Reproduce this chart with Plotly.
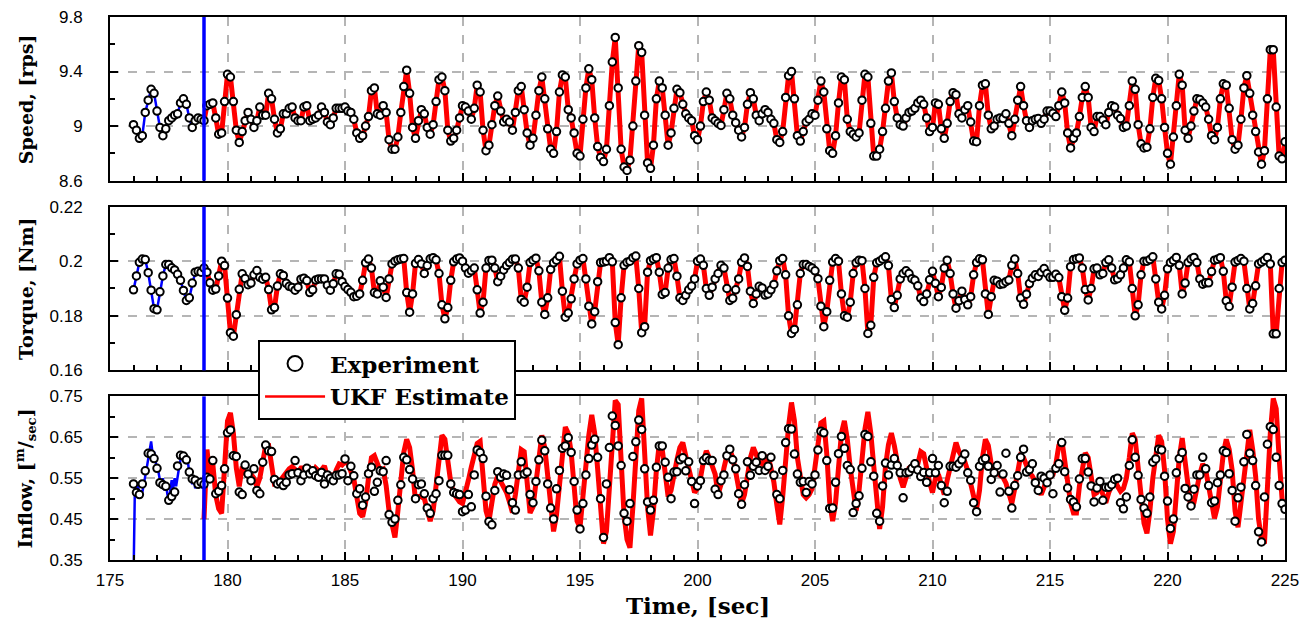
import numpy as np
import plotly.graph_objects as go
from plotly.subplots import make_subplots

# logging interval of the experiment, [sec]
DT = 0.125
T_EXP0 = 176.0      # first experiment sample
T_SWITCH = 179.0    # UKF switched on here
T_END = 225.0

# experiment: one line = one second (8 samples)
SPEED = [
    9.01, 8.97, 8.91, 8.93, 9.10, 9.19, 9.27, 9.24,   # 176
    9.11, 8.99, 8.93, 8.98, 9.04, 9.06, 9.08, 9.09,
    9.17, 9.20, 9.16, 9.06, 8.99, 9.04, 9.06, 9.05,
    9.04, 9.15, 9.16, 9.17, 9.06, 8.94, 8.95, 9.18,   # 179
    9.38, 9.36, 9.18, 8.97, 8.88, 8.96, 9.04, 9.10,   # 180
    9.05, 8.99, 9.04, 9.14, 9.08, 9.08, 9.24, 9.20,
    9.05, 8.95, 8.98, 9.09, 9.09, 9.13, 9.14, 9.06,
    9.04, 9.04, 9.14, 9.15, 9.04, 9.05, 9.06, 9.08,
    9.14, 9.10, 9.03, 9.01, 9.06, 9.13, 9.13, 9.13,
    9.14, 9.11, 9.10, 9.05, 8.95, 8.91, 8.93, 9.00,   # 185
    9.07, 9.26, 9.28, 9.09, 9.08, 9.15, 9.10, 8.90,
    8.83, 8.83, 8.92, 9.10, 9.29, 9.41, 9.24, 8.99,
    8.91, 9.04, 9.12, 9.09, 8.99, 8.94, 9.01, 9.18,
    9.34, 9.36, 9.26, 8.97, 8.89, 8.91, 8.97, 9.06,
    9.15, 9.14, 9.11, 9.05, 9.13, 9.30, 9.25, 8.97,   # 190
    8.82, 8.86, 9.01, 9.15, 9.22, 9.11, 9.03, 9.05,
    9.03, 8.97, 9.10, 9.26, 9.29, 9.12, 8.95, 8.86,
    8.91, 9.08, 9.26, 9.36, 9.20, 8.98, 8.83, 8.80,
    8.96, 9.25, 9.375, 9.36, 9.12, 9.06, 8.95, 8.80,
    8.78, 9.05, 9.28, 9.42, 9.34, 9.06, 8.85, 8.77,   # 195
    8.74, 8.83, 9.15, 9.47, 9.65, 9.28, 8.83, 8.70,
    8.675, 8.75, 9.00, 9.33, 9.59, 9.54, 9.08, 8.73,
    8.69, 8.86, 9.20, 9.33, 9.28, 9.08, 8.86, 8.95,
    9.13, 9.27, 9.245, 9.16, 9.09, 9.06, 9.04, 8.93,
    8.90, 9.00, 9.18, 9.25, 9.19, 9.06, 9.04, 9.02,   # 200
    9.005, 9.12, 9.24, 9.20, 9.08, 9.025, 8.97, 8.92,
    8.99, 9.16, 9.245, 9.20, 9.08, 9.04, 9.09, 9.12,
    9.10, 9.05, 9.02, 8.90, 8.88, 8.96, 9.21, 9.37,
    9.40, 9.20, 8.93, 8.89, 8.96, 9.03, 9.05, 9.09,
    9.08, 9.19, 9.33, 9.25, 8.98, 8.82, 8.80, 8.93,   # 205
    9.17, 9.36, 9.34, 9.05, 8.96, 8.94, 8.92, 8.95,
    9.19, 9.38, 9.36, 9.02, 8.78, 8.78, 8.83, 8.96,
    9.13, 9.33, 9.39, 9.18, 9.06, 9.01, 9.00, 9.06,
    9.10, 9.11, 9.13, 9.17, 9.19, 9.16, 9.06, 8.96,
    8.99, 9.17, 9.16, 8.98, 8.91, 9.02, 9.18, 9.245,  # 210
    9.23, 9.09, 9.06, 9.12, 9.15, 9.03, 8.89, 8.885,
    9.15, 9.30, 9.31, 9.08, 8.98, 9.00, 9.05, 9.06,
    9.055, 9.09, 9.02, 8.93, 9.05, 9.19, 9.29, 9.15,
    9.04, 8.99, 9.04, 9.05, 9.055, 9.02, 9.05, 9.11,
    9.11, 9.095, 9.07, 9.15, 9.25, 9.17, 8.95, 8.84,  # 215
    8.91, 8.95, 9.07, 9.21, 9.29, 9.21, 8.99, 8.96,
    9.07, 9.07, 9.045, 9.01, 9.10, 9.15, 9.14, 9.08,
    9.055, 8.99, 9.00, 9.15, 9.33, 9.27, 9.01, 8.87,
    8.84, 8.845, 8.98, 9.21, 9.35, 9.335, 9.20, 8.99,
    8.80, 8.72, 8.92, 9.15, 9.38, 9.30, 8.97, 8.91,   # 220
    9.00, 9.11, 9.20, 9.195, 9.17, 9.14, 9.05, 8.93,
    8.90, 8.99, 9.20, 9.31, 9.30, 9.13, 8.90, 8.83,
    8.86, 9.05, 9.28, 9.37, 9.24, 9.08, 8.96, 8.81,
    8.72, 8.82, 9.20, 9.56, 9.56, 9.14, 8.78, 8.76,
    8.885,                                            # 225
]

TORQUE = [
    0.1895, 0.1946, 0.1996, 0.2008, 0.2006, 0.1958, 0.1894, 0.1826,   # 176
    0.1822, 0.1888, 0.1946, 0.1988, 0.1988, 0.1976, 0.1968, 0.1952,
    0.1930, 0.1893, 0.1856, 0.1866, 0.1920, 0.1960, 0.1963, 0.1960,
    0.1975, 0.1960, 0.1921, 0.1894, 0.1898, 0.1946, 0.2000, 0.1984,   # 179
    0.1865, 0.1738, 0.1725, 0.1804, 0.1897, 0.1954, 0.1937, 0.1914,   # 180
    0.1920, 0.1950, 0.1966, 0.1941, 0.1934, 0.1941, 0.1896, 0.1822,
    0.1830, 0.1909, 0.1954, 0.1948, 0.1919, 0.1908, 0.1904, 0.1894,
    0.1905, 0.1934, 0.1938, 0.1929, 0.1885, 0.1895, 0.1931, 0.1935,
    0.1935, 0.1935, 0.1912, 0.1894, 0.1917, 0.1954, 0.1952, 0.1925,
    0.1907, 0.1896, 0.1886, 0.1870, 0.1872, 0.1880, 0.1930, 0.1994,   # 185
    0.2008, 0.1975, 0.1885, 0.1880, 0.1928, 0.1905, 0.1867, 0.1935,
    0.1990, 0.2000, 0.2005, 0.2008, 0.2010, 0.1885, 0.1813, 0.1880,
    0.1992, 0.2006, 0.1990, 0.1955, 0.1984, 0.2009, 0.2013, 0.2005,
    0.1955, 0.1840, 0.1789, 0.1830, 0.1930, 0.1998, 0.2008, 0.2012,
    0.2000, 0.1975, 0.1956, 0.1965, 0.1975, 0.1895, 0.1810, 0.1850,   # 190
    0.1975, 0.2003, 0.2004, 0.1975, 0.1925, 0.1945, 0.1968, 0.1984,
    0.1995, 0.2007, 0.2008, 0.1975, 0.1860, 0.1850, 0.1905, 0.1995,
    0.2004, 0.2011, 0.1965, 0.1850, 0.1805, 0.1866, 0.1970, 0.1994,
    0.2004, 0.2018, 0.1890, 0.1795, 0.1810, 0.1862, 0.1935, 0.1990,
    0.2004, 0.2010, 0.1935, 0.1835, 0.1770, 0.1815, 0.1925, 0.1995,   # 195
    0.1997, 0.2000, 0.2013, 0.1998, 0.1775, 0.1694, 0.1866, 0.1985,
    0.1996, 0.2000, 0.2013, 0.2019, 0.1900, 0.1738, 0.1760, 0.1960,
    0.2002, 0.2008, 0.2013, 0.1960, 0.1878, 0.1885, 0.1975, 0.2006,
    0.2010, 0.1945, 0.1866, 0.1856, 0.1875, 0.1895, 0.1909, 0.1935,
    0.2000, 0.2008, 0.1985, 0.1900, 0.1875, 0.1905, 0.1935, 0.1955,   # 200
    0.1985, 0.1975, 0.1900, 0.1856, 0.1864, 0.1895, 0.1935, 0.1996,
    0.2012, 0.1981, 0.1890, 0.1845, 0.1880, 0.1908, 0.1902, 0.1876,
    0.1880, 0.1895, 0.1915, 0.1965, 0.2002, 0.2010, 0.1950, 0.1800,
    0.1735, 0.1750, 0.1840, 0.1955, 0.1988, 0.1988, 0.1981, 0.1975,
    0.1965, 0.1936, 0.1835, 0.1760, 0.1815, 0.1930, 0.1997, 0.2010,   # 205
    0.2000, 0.1880, 0.1800, 0.1795, 0.1850, 0.1955, 0.1994, 0.2004,
    0.2002, 0.1900, 0.1735, 0.1765, 0.1941, 0.1994, 0.2000, 0.2008,
    0.2016, 0.1984, 0.1860, 0.1830, 0.1875, 0.1935, 0.1955, 0.1965,
    0.1955, 0.1936, 0.1930, 0.1910, 0.1865, 0.1852, 0.1880, 0.1932,
    0.1963, 0.1919, 0.1870, 0.1904, 0.1975, 0.2004, 0.1955, 0.1880,   # 210
    0.1828, 0.1855, 0.1890, 0.1860, 0.1840, 0.1870, 0.1950, 0.1995,
    0.2009, 0.2005, 0.1880, 0.1805, 0.1870, 0.1930, 0.1927, 0.1915,
    0.1917, 0.1925, 0.1931, 0.1985, 0.2008, 0.1955, 0.1865, 0.1842,
    0.1879, 0.1918, 0.1938, 0.1950, 0.1944, 0.1960, 0.1973, 0.1955,
    0.1941, 0.1941, 0.1952, 0.1940, 0.1870, 0.1820, 0.1865, 0.1980,   # 215
    0.2006, 0.2009, 0.2012, 0.1975, 0.1896, 0.1858, 0.1900, 0.1972,
    0.1975, 0.1950, 0.1955, 0.1995, 0.2005, 0.1975, 0.1932, 0.1936,
    0.1950, 0.1975, 0.2005, 0.1998, 0.1900, 0.1800, 0.1840, 0.1950,
    0.2000, 0.2000, 0.2006, 0.2016, 0.1935, 0.1850, 0.1825, 0.1875,
    0.1972, 0.1995, 0.2003, 0.2014, 0.1985, 0.1880, 0.1920, 0.1995,   # 220
    0.2008, 0.2014, 0.1995, 0.1935, 0.1916, 0.1921, 0.1921, 0.1962,
    0.2004, 0.2007, 0.2013, 0.1963, 0.1855, 0.1834, 0.1905, 0.1997,
    0.2003, 0.2010, 0.2000, 0.1900, 0.1825, 0.1845, 0.1910, 0.1990,
    0.1997, 0.2004, 0.2014, 0.1990, 0.1734, 0.1734, 0.1900, 0.1995,
    0.2004,                                                           # 225
]

INFLOW = [
    0.536, 0.515, 0.510, 0.536, 0.568, 0.611, 0.609, 0.598,   # 176
    0.574, 0.539, 0.534, 0.530, 0.496, 0.505, 0.516, 0.580,
    0.606, 0.604, 0.595, 0.565, 0.548, 0.545, 0.535, 0.540,
    0.535, 0.552, 0.548, 0.593, 0.512, 0.518, 0.532, 0.573,   # 179
    0.661, 0.668, 0.605, 0.603, 0.516, 0.510, 0.582, 0.560,   # 180
    0.544, 0.573, 0.520, 0.512, 0.589, 0.631, 0.617, 0.615,
    0.547, 0.536, 0.540, 0.532, 0.540, 0.558, 0.561, 0.593,
    0.563, 0.544, 0.558, 0.574, 0.561, 0.568, 0.556, 0.552,
    0.564, 0.536, 0.558, 0.550, 0.544, 0.557, 0.558, 0.561,
    0.597, 0.544, 0.579, 0.556, 0.512, 0.524, 0.484, 0.504,   # 185
    0.561, 0.577, 0.518, 0.540, 0.568, 0.566, 0.593, 0.461,
    0.442, 0.450, 0.496, 0.534, 0.601, 0.595, 0.571, 0.548,
    0.500, 0.534, 0.536, 0.512, 0.477, 0.464, 0.500, 0.512,
    0.544, 0.606, 0.606, 0.606, 0.536, 0.515, 0.512, 0.510,
    0.468, 0.472, 0.510, 0.480, 0.558, 0.619, 0.613, 0.598,   # 190
    0.506, 0.444, 0.436, 0.520, 0.566, 0.552, 0.560, 0.557,
    0.522, 0.490, 0.472, 0.558, 0.590, 0.560, 0.565, 0.510,
    0.490, 0.542, 0.595, 0.643, 0.617, 0.536, 0.477, 0.450,
    0.524, 0.569, 0.623, 0.629, 0.649, 0.613, 0.542, 0.472,
    0.426, 0.488, 0.558, 0.598, 0.631, 0.645, 0.601, 0.500,   # 195
    0.405, 0.536, 0.625, 0.702, 0.679, 0.629, 0.581, 0.464,
    0.445, 0.488, 0.603, 0.639, 0.692, 0.669, 0.573, 0.492,
    0.472, 0.496, 0.577, 0.629, 0.629, 0.589, 0.552, 0.500,
    0.565, 0.566, 0.595, 0.600, 0.568, 0.590, 0.542, 0.488,
    0.531, 0.544, 0.593, 0.600, 0.593, 0.593, 0.523, 0.510,   # 200
    0.544, 0.558, 0.605, 0.621, 0.595, 0.573, 0.512, 0.486,
    0.534, 0.590, 0.557, 0.579, 0.589, 0.569, 0.605, 0.569,
    0.579, 0.601, 0.557, 0.510, 0.500, 0.569, 0.637, 0.671,
    0.670, 0.609, 0.560, 0.540, 0.542, 0.515, 0.542, 0.536,
    0.558, 0.619, 0.665, 0.661, 0.593, 0.476, 0.477, 0.540,   # 205
    0.610, 0.652, 0.623, 0.581, 0.571, 0.466, 0.488, 0.507,
    0.574, 0.657, 0.652, 0.590, 0.555, 0.464, 0.445, 0.531,
    0.587, 0.558, 0.582, 0.598, 0.581, 0.563, 0.502, 0.563,
    0.565, 0.574, 0.585, 0.570, 0.554, 0.564, 0.540, 0.563,
    0.598, 0.563, 0.581, 0.532, 0.490, 0.518, 0.579, 0.579,   # 210
    0.577, 0.585, 0.595, 0.609, 0.563, 0.545, 0.490, 0.468,
    0.579, 0.593, 0.598, 0.579, 0.547, 0.563, 0.581, 0.516,
    0.560, 0.611, 0.518, 0.477, 0.532, 0.556, 0.601, 0.621,
    0.565, 0.571, 0.585, 0.539, 0.520, 0.555, 0.550, 0.539,
    0.558, 0.512, 0.574, 0.585, 0.637, 0.566, 0.526, 0.498,   # 215
    0.492, 0.480, 0.548, 0.598, 0.598, 0.565, 0.531, 0.492,
    0.526, 0.542, 0.496, 0.528, 0.528, 0.534, 0.547, 0.550,
    0.490, 0.475, 0.504, 0.581, 0.644, 0.601, 0.557, 0.498,
    0.477, 0.464, 0.504, 0.589, 0.597, 0.621, 0.619, 0.555,
    0.494, 0.427, 0.450, 0.563, 0.598, 0.613, 0.525, 0.504,   # 220
    0.482, 0.523, 0.558, 0.558, 0.601, 0.573, 0.532, 0.490,
    0.494, 0.539, 0.558, 0.617, 0.613, 0.561, 0.520, 0.445,
    0.502, 0.528, 0.590, 0.657, 0.611, 0.593, 0.532, 0.419,
    0.394, 0.504, 0.633, 0.676, 0.669, 0.601, 0.532, 0.488,
    0.474,                                                    # 225
]

# UKF inflow estimate from T_SWITCH on (same sampling)
INFLOW_UKF = [
    0.450, 0.620, 0.556, 0.585, 0.508, 0.475, 0.464, 0.560,   # 179
    0.690, 0.710, 0.660, 0.575, 0.530, 0.578, 0.562, 0.555,   # 180
    0.560, 0.550, 0.530, 0.550, 0.595, 0.630, 0.630, 0.580,
    0.535, 0.535, 0.545, 0.556, 0.568, 0.573, 0.578, 0.570,
    0.565, 0.575, 0.575, 0.565, 0.573, 0.560, 0.575, 0.568,
    0.570, 0.580, 0.553, 0.562, 0.540, 0.570, 0.585, 0.582,
    0.590, 0.585, 0.565, 0.548, 0.505, 0.464, 0.456, 0.490,   # 185
    0.550, 0.600, 0.605, 0.583, 0.568, 0.572, 0.532, 0.470,
    0.430, 0.405, 0.470, 0.550, 0.613, 0.645, 0.625, 0.570,
    0.495, 0.505, 0.505, 0.500, 0.465, 0.445, 0.470, 0.530,
    0.600, 0.655, 0.645, 0.590, 0.540, 0.512, 0.500, 0.492,
    0.488, 0.512, 0.545, 0.577, 0.610, 0.635, 0.640, 0.540,   # 190
    0.470, 0.445, 0.490, 0.535, 0.555, 0.542, 0.530, 0.515,
    0.492, 0.466, 0.510, 0.575, 0.620, 0.615, 0.548, 0.465,
    0.480, 0.535, 0.610, 0.655, 0.625, 0.550, 0.470, 0.420,
    0.460, 0.532, 0.610, 0.675, 0.660, 0.613, 0.530, 0.445,
    0.430, 0.505, 0.590, 0.655, 0.705, 0.660, 0.573, 0.465,   # 195
    0.390, 0.420, 0.520, 0.655, 0.740, 0.730, 0.590, 0.460,
    0.400, 0.380, 0.480, 0.620, 0.715, 0.745, 0.610, 0.480,
    0.410, 0.470, 0.570, 0.635, 0.620, 0.560, 0.505, 0.520,
    0.565, 0.595, 0.625, 0.637, 0.605, 0.575, 0.545, 0.515,
    0.525, 0.550, 0.590, 0.617, 0.600, 0.580, 0.560, 0.510,   # 200
    0.535, 0.575, 0.605, 0.620, 0.600, 0.565, 0.525, 0.488,
    0.510, 0.556, 0.600, 0.625, 0.605, 0.590, 0.585, 0.595,
    0.605, 0.575, 0.540, 0.485, 0.437, 0.505, 0.600, 0.677,
    0.735, 0.690, 0.600, 0.545, 0.510, 0.502, 0.510, 0.524,
    0.580, 0.645, 0.685, 0.690, 0.610, 0.492, 0.445, 0.490,   # 205
    0.580, 0.660, 0.690, 0.645, 0.575, 0.510, 0.470, 0.520,
    0.605, 0.670, 0.712, 0.660, 0.580, 0.485, 0.426, 0.480,
    0.580, 0.632, 0.660, 0.630, 0.585, 0.550, 0.528, 0.550,
    0.575, 0.580, 0.568, 0.585, 0.615, 0.610, 0.568, 0.540,
    0.515, 0.550, 0.560, 0.532, 0.510, 0.545, 0.580, 0.615,   # 210
    0.637, 0.615, 0.603, 0.590, 0.568, 0.535, 0.500, 0.475,
    0.520, 0.600, 0.645, 0.630, 0.585, 0.566, 0.562, 0.558,
    0.552, 0.538, 0.510, 0.488, 0.525, 0.570, 0.605, 0.600,
    0.578, 0.563, 0.555, 0.540, 0.528, 0.510, 0.528, 0.548,
    0.552, 0.558, 0.585, 0.630, 0.645, 0.590, 0.535, 0.490,   # 215
    0.465, 0.465, 0.530, 0.580, 0.612, 0.600, 0.548, 0.510,
    0.515, 0.532, 0.510, 0.490, 0.515, 0.535, 0.548, 0.530,
    0.518, 0.525, 0.550, 0.600, 0.660, 0.645, 0.580, 0.500,
    0.440, 0.415, 0.470, 0.550, 0.615, 0.655, 0.640, 0.570,
    0.450, 0.390, 0.420, 0.510, 0.600, 0.648, 0.585, 0.525,   # 220
    0.475, 0.490, 0.532, 0.560, 0.585, 0.570, 0.530, 0.490,
    0.452, 0.480, 0.550, 0.610, 0.645, 0.620, 0.570, 0.470,
    0.430, 0.490, 0.555, 0.625, 0.668, 0.620, 0.555, 0.450,
    0.400, 0.390, 0.540, 0.660, 0.745, 0.720, 0.600, 0.500,
    0.475,                                                    # 225
]

# pre-UKF inflow trace (blue), finer sampling 1/16 s from 176 s
DT_PRE = 0.0625
INFLOW_PRE = [
    0.30, 0.54, 0.525, 0.535, 0.51, 0.52, 0.515, 0.54,
    0.555, 0.575, 0.60, 0.625, 0.64, 0.61, 0.615, 0.59,
    0.58, 0.565, 0.545, 0.535, 0.55, 0.52, 0.535, 0.505,
    0.49, 0.52, 0.545, 0.525, 0.55, 0.53, 0.56, 0.575,
    0.595, 0.61, 0.595, 0.60, 0.585, 0.59, 0.565, 0.55,
    0.535, 0.55, 0.525, 0.545, 0.53, 0.55, 0.535, 0.525,
    0.54,
]

FONT_TXT = "DejaVu Serif"
FONT_NUM = "Liberation Sans"
RED = "#ff0000"
BLUE = "#0000ff"

t_exp = T_EXP0 + DT * np.arange(len(SPEED))
t_ukf = T_SWITCH + DT * np.arange(len(INFLOW_UKF))
t_pre = T_EXP0 + DT_PRE * np.arange(len(INFLOW_PRE))
pre = t_exp <= T_SWITCH + 1e-9
post = t_exp >= T_SWITCH - 1e-9

fig = make_subplots(rows=3, cols=1, shared_xaxes=True, vertical_spacing=0.048)


def add_panel(row, y_exp, t_red, y_red, t_blue, y_blue):
    fig.add_trace(go.Scatter(x=t_red, y=y_red, mode="lines",
                             line=dict(color=RED, width=5),
                             name="UKF Estimate", showlegend=False,
                             hoverinfo="skip"), row=row, col=1)
    fig.add_trace(go.Scatter(x=t_blue, y=y_blue, mode="lines",
                             line=dict(color=BLUE, width=2.5),
                             showlegend=False, hoverinfo="skip"), row=row, col=1)
    fig.add_trace(go.Scatter(x=t_exp, y=y_exp, mode="markers",
                             marker=dict(symbol="circle", size=7.5, color="white",
                                         line=dict(color="black", width=2)),
                             name="Experiment", showlegend=False),
                  row=row, col=1)


speed = np.array(SPEED)
torque = np.array(TORQUE)
inflow = np.array(INFLOW)

add_panel(1, speed, t_exp[post], speed[post], t_exp[pre], speed[pre])
add_panel(2, torque, t_exp[post], torque[post], t_exp[pre], torque[pre])
add_panel(3, inflow, t_ukf, INFLOW_UKF, t_pre, INFLOW_PRE)

# legend-only entries
fig.add_trace(go.Scatter(x=[None], y=[None], mode="markers", name="Experiment",
                         marker=dict(symbol="circle-open", size=15, color="black",
                                     line=dict(width=2)),
                         legendrank=1), row=3, col=1)
fig.add_trace(go.Scatter(x=[None], y=[None], mode="lines", name="UKF Estimate",
                         line=dict(color=RED, width=2.5), legendrank=2),
              row=3, col=1)

# vertical marker where the UKF is switched on
for yref in ["y domain", "y2 domain", "y3 domain"]:
    fig.add_shape(type="line", xref="x", yref=yref, x0=T_SWITCH, x1=T_SWITCH,
                  y0=0, y1=1, line=dict(color=BLUE, width=3.5), layer="above")

axis_common = dict(showline=True, mirror=True, linecolor="black", linewidth=2,
                   ticks="inside", tickcolor="black", tickwidth=1.5, ticklen=8,
                   showgrid=True, gridcolor="#b5b5b5", griddash="dash",
                   gridwidth=1.5, zeroline=False, automargin=False,
                   ticklabeloverflow="allow",
                   tickfont=dict(family=FONT_NUM, size=17, color="black"))

for r in (1, 2, 3):
    fig.update_xaxes(range=[175, 225], dtick=5, tick0=175,
                     minor=dict(dtick=1, ticks="inside", ticklen=5,
                                tickcolor="black", showgrid=False),
                     showticklabels=(r == 3), row=r, col=1, **axis_common)

fig.update_yaxes(range=[8.6, 9.8], tick0=8.6, dtick=0.4,
                 minor=dict(dtick=0.2, ticks="inside", ticklen=5,
                            tickcolor="black", showgrid=False),
                 row=1, col=1, **axis_common)
fig.update_yaxes(range=[0.16, 0.22], tick0=0.16, dtick=0.02,
                 minor=dict(dtick=0.01, ticks="inside", ticklen=5,
                            tickcolor="black", showgrid=False),
                 row=2, col=1, **axis_common)
fig.update_yaxes(range=[0.35, 0.75], tick0=0.35, dtick=0.1,
                 minor=dict(dtick=0.05, ticks="inside", ticklen=5,
                            tickcolor="black", showgrid=False),
                 row=3, col=1, **axis_common)
fig.update_yaxes(ticklabelstandoff=22)
fig.update_xaxes(ticklabelstandoff=4)

title_font = dict(family=FONT_TXT, size=19, color="black", weight="bold")
y_titles = [("Speed, [rps]", "y domain"), ("Torque, [Nm]", "y2 domain"),
            ("Inflow, [<sup>m</sup>/<sub>sec</sub>]", "y3 domain")]
for txt, yref in y_titles:
    fig.add_annotation(text=txt, xref="paper", yref=yref, x=-0.072, y=0.5,
                       xanchor="center", yanchor="middle", textangle=-90,
                       showarrow=False, font=title_font)
fig.add_annotation(text="Time, [sec]", xref="paper", yref="paper", x=0.5, y=-0.083,
                   xanchor="center", yanchor="middle", showarrow=False,
                   font=dict(family=FONT_TXT, size=23, color="black", weight="bold"))

# page body adds an 8 px offset, so the figure is 16 px smaller than the window
fig.update_layout(
    width=1294, height=613,
    margin=dict(l=102, r=17, t=9, b=61),
    paper_bgcolor="white", plot_bgcolor="white",
    showlegend=True,
    legend=dict(x=0.126, y=0.405, xanchor="left", yanchor="top",
                bgcolor="white", bordercolor="black", borderwidth=2,
                font=dict(family=FONT_TXT, size=23, color="black", weight="bold"),
                itemwidth=60, tracegroupgap=0),
)

fig.write_html("out.html")
